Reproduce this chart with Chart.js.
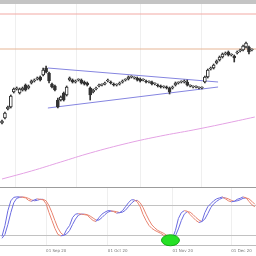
<!DOCTYPE html>
<html>
<head>
<meta charset="utf-8">
<script src="https://cdn.jsdelivr.net/npm/chart.js@4/dist/chart.umd.min.js"></script>
<style>
    html, body { margin: 0; padding: 0; background: #fff; }
    #wrap { position: relative; width: 256px; height: 256px; overflow: hidden; }
    #band { position: absolute; left: 0; top: 0; width: 256px; height: 4px; background: #c4c4c4; }
    #top { position: absolute; left: 0; top: 4px; width: 256px; height: 183px; }
    #bot { position: absolute; left: 0; top: 187px; width: 256px; height: 69px; border-top: 1px solid #9c9c9c; box-sizing: border-box; }
</style>
</head>
<body>
<div id="wrap">
    <div id="band"></div>
    <div id="top"><canvas id="priceChart"></canvas></div>
    <div id="bot"><canvas id="stochChart"></canvas></div>
</div>
<script>
// daily candles, mid Aug 2020 -> mid Dec 2020
const opens  = [3320,3345,3390,3400,3475,3490,3470,3485,3510,3495,3520,3530,3540,3550,3560,3595,3570,3515,3505,3435,3435,3470,3460,3535,3535,3525,3535,3535,3525,3520,
                3495,3475,3490,3505,3510,3515,3530,3525,3515,3510,3515,3525,3535,3540,3550,3545,3545,3540,3535,3530,3525,3525,3515,3510,3505,3500,3500,3495,3495,3510,
                3520,3525,3525,3525,3505,3500,3500,3495,3495,3525,3550,3590,3595,3620,3635,3650,3665,3675,3660,3655,3670,3680,3685,3700,3700,3685];
const highs  = [3335,3375,3405,3460,3495,3500,3495,3500,3515,3510,3535,3540,3550,3555,3595,3605,3575,3520,3510,3445,3455,3475,3505,3550,3540,3535,3541,3540,3530,3525,
                3500,3490,3500,3515,3516,3525,3540,3530,3520,3516,3525,3535,3541,3555,3556,3551,3550,3545,3541,3535,3531,3530,3521,3515,3510,3506,3505,3500,3505,3525,
                3526,3531,3535,3535,3511,3506,3506,3501,3501,3555,3590,3600,3615,3635,3655,3670,3675,3680,3666,3660,3680,3690,3710,3725,3705,3691];
const lows   = [3315,3340,3385,3395,3470,3485,3465,3480,3480,3490,3515,3525,3535,3530,3555,3570,3520,3495,3480,3395,3430,3430,3455,3530,3520,3520,3530,3515,3510,3505,
                3435,3470,3485,3500,3505,3510,3525,3515,3505,3505,3510,3520,3530,3535,3545,3540,3530,3525,3530,3520,3520,3510,3510,3500,3495,3495,3490,3465,3490,3505,
                3515,3520,3520,3505,3500,3495,3495,3490,3490,3520,3545,3585,3590,3615,3630,3645,3660,3655,3655,3625,3665,3675,3680,3695,3665,3680];
const closes = [3330,3370,3400,3455,3490,3495,3490,3495,3485,3505,3530,3535,3545,3535,3585,3575,3530,3500,3485,3400,3450,3435,3500,3545,3525,3530,3536,3520,3515,3510,
                3460,3485,3495,3510,3511,3520,3535,3520,3510,3511,3520,3530,3536,3550,3551,3546,3535,3530,3536,3525,3526,3515,3516,3505,3500,3501,3495,3475,3500,3520,
                3521,3526,3530,3510,3506,3501,3501,3496,3496,3550,3585,3595,3610,3630,3650,3665,3670,3660,3661,3645,3675,3685,3705,3720,3675,3686];

// moving average, read at a few days
const maDays   = [0, 10, 20, 30, 43, 54, 65, 75, 86];
const maValues = [3040, 3080, 3125, 3170, 3220, 3255, 3285, 3315, 3350];

// drawn levels and triangle
const levels = [3865, 3690];
const triUpperDays = [15.6, 73.5];
const triUpper     = [3595, 3525];
const triLowerDays = [15.6, 73.5];
const triLower     = [3395, 3500];

// stochastic %K / %D
const stochK = [18,40,70,90,97,98,98,97,96,91,89,92,94,93,92,84,66,50,34,22,19,20,32,40,56,63,64,63,62,61,
                55,50,48,56,63,67,70,70,68,65,66,70,78,86,92,92,88,78,62,50,40,34,30,27,24,20,15,13,14,30,
                54,66,70,69,62,56,50,46,48,66,78,84,90,94,96,98,94,90,88,89,93,95,98,96,89,82,78];
const stochD = [14,22,42,66,86,95,97,98,97,95,92,90,91,93,93,90,80,66,50,35,25,20,23,30,42,53,61,63,63,62,
                59,55,51,51,56,62,67,69,69,68,66,67,71,78,85,90,91,86,76,63,51,41,35,30,27,24,20,16,14,19,
                33,50,63,68,67,62,56,51,48,53,64,76,84,89,93,96,96,94,91,89,90,92,95,96,94,89,83];
const stochLevels = [20, 80];
const oversoldMark = { day: 57.3, value: 10 };

const tickDays   = [15, 36, 58, 78];
const tickLabels = ['01 Sep 20', '01 Oct 20', '01 Nov 20', '01 Dec 20'];

const xMin = -0.68, xMax = 86.4;
const upColor = '#6b6be0', downColor = '#e8836f';
const candleInk = '#333333';

function setDateTicks(scale) {
    scale.ticks = tickDays.map(v => ({ value: v }));
}

const pts = (xs, ys) => xs.map((x, i) => ({ x: x, y: ys[i] }));
const hline = v => [{ x: xMin - 1, y: v }, { x: xMax + 1, y: v }];

// Price chart
new Chart(document.getElementById('priceChart'), {
    type: 'bar',
    data: {
        datasets: [
            {
                data: opens.map((o, i) => ({ x: i, y: [o, closes[i]] })),
                grouped: false,
                barThickness: 3,
                minBarLength: 1,
                borderWidth: 1,
                borderSkipped: false,
                borderColor: candleInk,
                backgroundColor: ctx => {
                    const r = ctx.raw;
                    return r && r.y[1] >= r.y[0] ? '#ffffff' : candleInk;
                }
            },
            {
                data: lows.map((l, i) => ({ x: i, y: [l, highs[i]] })),
                grouped: false,
                barThickness: 1,
                backgroundColor: candleInk
            },
            { type: 'line', data: hline(levels[0]), borderColor: '#f2a9a4', borderWidth: 1, pointRadius: 0 },
            { type: 'line', data: hline(levels[1]), borderColor: '#e6b595', borderWidth: 1, pointRadius: 0 },
            { type: 'line', data: pts(triUpperDays, triUpper), borderColor: '#8585e0', borderWidth: 1, pointRadius: 0 },
            { type: 'line', data: pts(triLowerDays, triLower), borderColor: '#8585e0', borderWidth: 1, pointRadius: 0 },
            { type: 'line', data: pts(maDays, maValues), borderColor: '#e4a2e4', borderWidth: 1, pointRadius: 0, tension: 0.4 }
        ]
    },
    options: {
        responsive: true,
        maintainAspectRatio: false,
        animation: false,
        layout: { padding: 0 },
        scales: {
            x: {
                type: 'linear',
                min: xMin,
                max: xMax,
                offset: false,
                afterBuildTicks: setDateTicks,
                grid: { color: '#efefef', drawTicks: false },
                border: { display: false },
                ticks: { display: false }
            },
            y: {
                min: 3000,
                max: 3915,
                display: false
            }
        },
        plugins: {
            legend: { display: false },
            tooltip: { enabled: false }
        }
    }
});

// Oversold marker
const markerPlugin = {
    id: 'marker',
    afterDatasetsDraw(chart) {
        const { ctx, scales } = chart;
        const cx = scales.x.getPixelForValue(oversoldMark.day);
        const cy = scales.y.getPixelForValue(oversoldMark.value);
        ctx.save();
        ctx.beginPath();
        ctx.ellipse(cx, cy, 9, 5.5, 0, 0, Math.PI * 2);
        ctx.fillStyle = '#25e025';
        ctx.fill();
        ctx.strokeStyle = '#14a814';
        ctx.lineWidth = 1;
        ctx.stroke();
        ctx.restore();
    }
};

const slopeColor = ctx => ctx.p1.parsed.y >= ctx.p0.parsed.y ? upColor : downColor;

// Stochastic chart
new Chart(document.getElementById('stochChart'), {
    type: 'line',
    data: {
        datasets: [
            {
                data: stochK.map((v, i) => ({ x: i, y: v })),
                borderWidth: 1,
                pointRadius: 0,
                borderColor: upColor,
                segment: { borderColor: slopeColor }
            },
            {
                data: stochD.map((v, i) => ({ x: i, y: v })),
                borderWidth: 1,
                pointRadius: 0,
                borderColor: upColor,
                segment: { borderColor: slopeColor }
            }
        ]
    },
    options: {
        responsive: true,
        maintainAspectRatio: false,
        animation: false,
        layout: { padding: 0 },
        scales: {
            x: {
                type: 'linear',
                min: xMin,
                max: xMax,
                offset: false,
                afterBuildTicks: setDateTicks,
                grid: { color: '#efefef', drawTicks: false },
                border: { display: true, color: '#bdbdbd' },
                ticks: {
                    align: 'start',
                    padding: 3,
                    color: '#777',
                    font: { family: 'DejaVu Sans', size: 4 },
                    callback: v => tickLabels[tickDays.indexOf(v)]
                }
            },
            y: {
                min: 0,
                max: 116,
                afterBuildTicks: scale => { scale.ticks = stochLevels.map(v => ({ value: v })); },
                grid: { color: '#c2c2c2', drawTicks: false },
                border: { display: false },
                ticks: { display: false }
            }
        },
        plugins: {
            legend: { display: false },
            tooltip: { enabled: false }
        }
    },
    plugins: [markerPlugin]
});
</script>
</body>
</html>
